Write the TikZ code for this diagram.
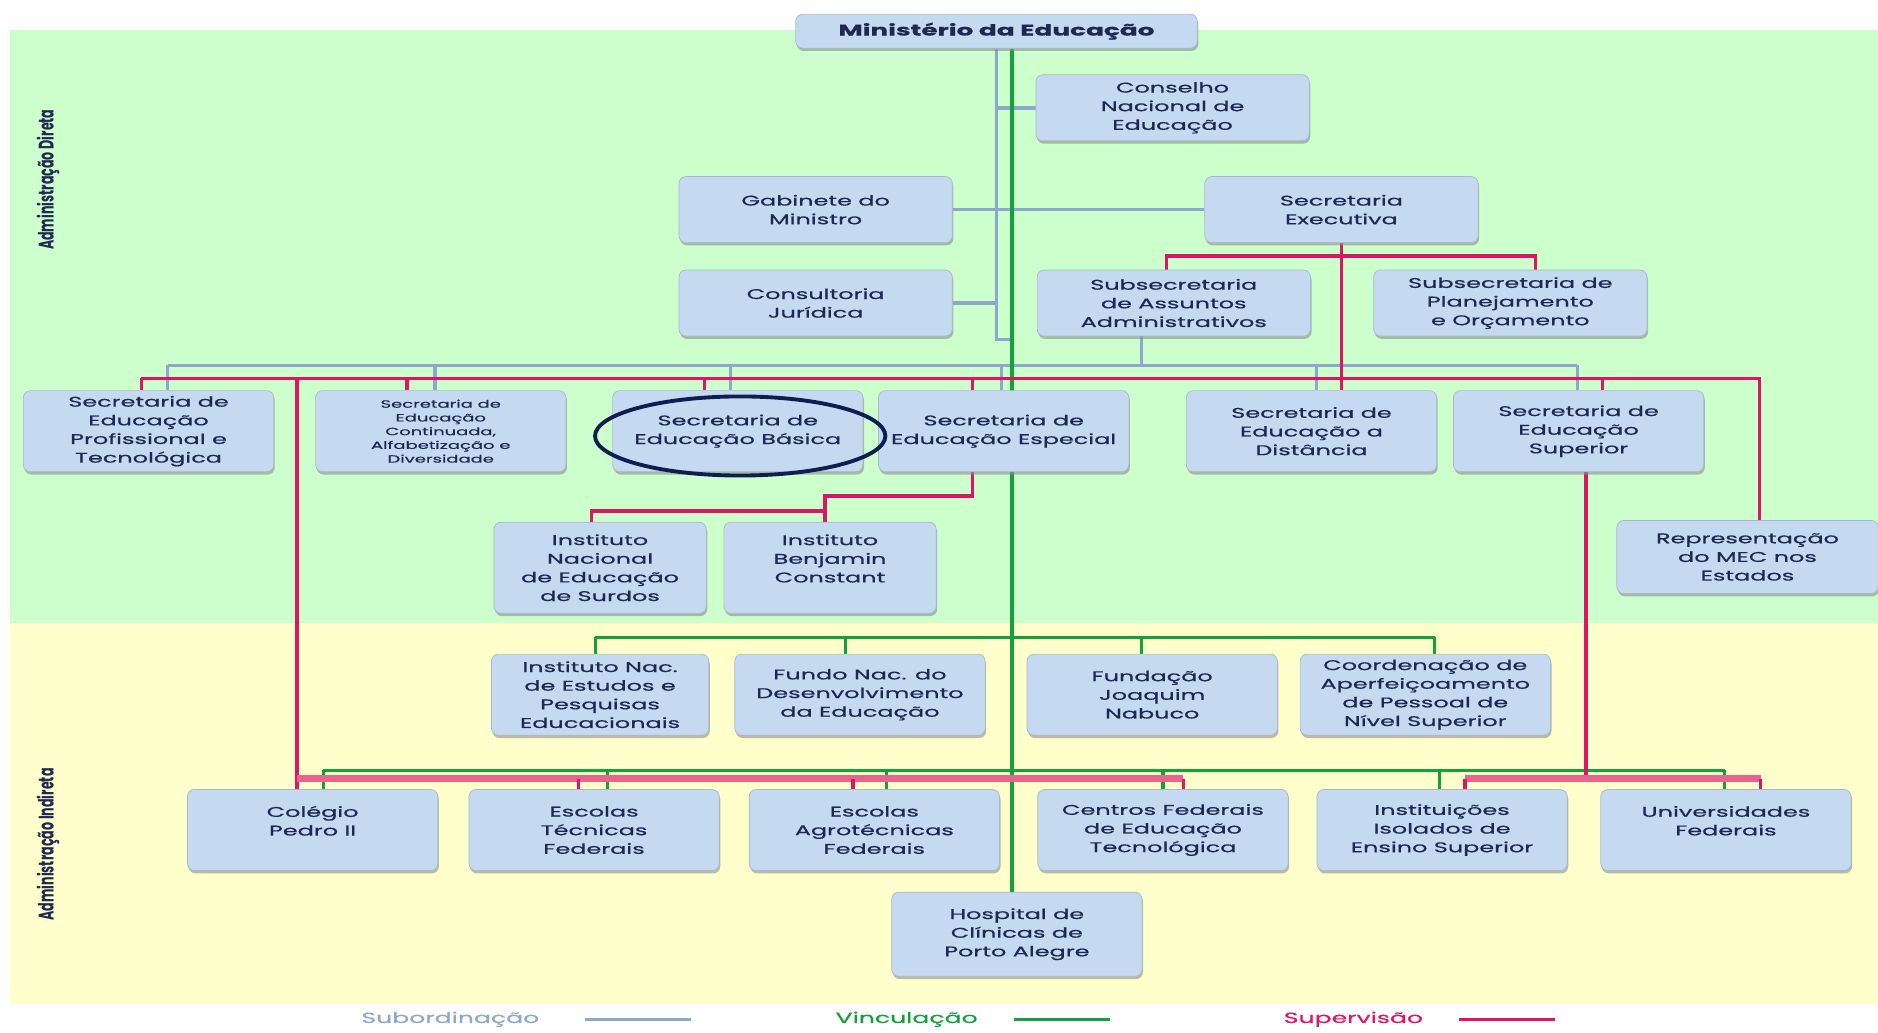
\documentclass[tikz,border=0pt]{standalone}
\usepackage{fontspec}
\newfontfamily\orgfont{Poppins}[FakeStretch=1.7, FakeBold=0.6]
\newfontfamily\sidefont{Poppins}[FakeStretch=0.6]
\usetikzlibrary{calc,shadows,shapes.geometric}
\definecolor{verde}{RGB}{204,255,204}
\definecolor{amarelo}{RGB}{255,255,204}
\definecolor{azulcaixa}{RGB}{197,218,240}
\definecolor{texto}{RGB}{30,40,80}
\definecolor{subcor}{RGB}{141,168,204}
\definecolor{vinccor}{RGB}{20,160,60}
\definecolor{supcor}{RGB}{222,20,100}
\definecolor{suprosa}{RGB}{232,100,140}
\definecolor{marca}{RGB}{15,30,80}
\pgfdeclarelayer{fundo}
\pgfdeclarelayer{linhas}
\pgfsetlayers{fundo,linhas,main}
\tikzset{
  caixa/.style = {
    fill=azulcaixa, draw=azulcaixa!85!black, line width=0.2pt, rounded corners=2pt,
    drop shadow={shadow xshift=0.3pt, shadow yshift=-0.8pt, fill=black!45, opacity=0.6},
    text=texto, align=center, inner sep=0pt,
    font=\orgfont\fontsize{4}{5.3}\selectfont
  },
  topo/.style = {caixa, minimum width=2.73cm, minimum height=0.66cm},
  sec/.style = {caixa, minimum width=2.5cm, minimum height=0.81cm},
  inst/.style = {caixa, minimum width=2.12cm, minimum height=0.91cm},
  linhasub/.style = {draw=subcor, line width=1pt},
  linhavinc/.style = {draw=vinccor, line width=0.9pt},
  linhasup/.style = {draw=supcor, line width=1pt},
  barrarosa/.style = {draw=suprosa, line width=2pt},
  legenda/.style = {font=\orgfont\fontsize{4.2}{5}\selectfont}
}

\begin{document}
\begin{tikzpicture}[x=0.01197cm, y=-0.01197cm]
  \useasboundingbox (0,0) rectangle (1568,862);
  \begin{pgfonlayer}{fundo}
    \fill[verde] (8,25) rectangle (1568,520);
    \fill[amarelo] (8,520) rectangle (1568,838);
  \end{pgfonlayer}

  \node[rotate=90, text=texto, font=\sidefont\bfseries\fontsize{6}{7}\selectfont] (direta) at (40,150) {Administração Direta};
  \node[rotate=90, text=texto, font=\sidefont\bfseries\fontsize{6}{7}\selectfont] (indireta) at (40,705) {Administração Indireta};

  % administracao direta
  \node[topo, minimum width=4.01cm, minimum height=0.34cm, font=\orgfont\bfseries\fontsize{4.4}{5}\selectfont] (mec) at (832,26) {Ministério da Educação};
  \node[topo] (cne) at (979,90) {Conselho\\Nacional de\\Educação};
  \node[topo] (gab) at (681,175) {Gabinete do\\Ministro};
  \node[topo] (sexec) at (1120,175) {Secretaria\\Executiva};
  \node[topo] (conj) at (681,253) {Consultoria\\Jurídica};
  \node[topo] (saa) at (980,253) {Subsecretaria\\de Assuntos\\Administrativos};
  \node[topo] (spo) at (1261,253) {Subsecretaria de\\Planejamento\\e Orçamento};

  \node[sec] (setec) at (124,360) {Secretaria de\\Educação\\Profissional e\\Tecnológica};
  \node[sec, font=\orgfont\fontsize{3}{3.9}\selectfont] (secad) at (368,360) {Secretaria de\\Educação\\Continuada,\\Alfabetização e\\Diversidade};
  \node[sec] (seb) at (616,360) {Secretaria de\\Educação Básica};
  \node[sec] (seesp) at (838,360) {Secretaria de\\Educação Especial};
  \node[sec] (seed) at (1095,360) {Secretaria de\\Educação a\\Distância};
  \node[sec] (sesu) at (1318,360) {Secretaria de\\Educação\\Superior};
  \node[sec, minimum width=2.61cm, minimum height=0.73cm] (rep) at (1459,465) {Representação\\do MEC nos\\Estados};

  \node[inst] (ines) at (501,474) {Instituto\\Nacional\\de Educação\\de Surdos};
  \node[inst] (ibc) at (693,474) {Instituto\\Benjamin\\Constant\\\mbox{}};

  % administracao indireta
  \node[sec, minimum width=2.17cm] (inep) at (501,580) {Instituto Nac.\\de Estudos e\\Pesquisas\\Educacionais};
  \node[sec] (fnde) at (718,580) {Fundo Nac. do\\Desenvolvimento\\da Educação};
  \node[sec] (fundaj) at (962,580) {Fundação\\Joaquim\\Nabuco};
  \node[sec] (capes) at (1190,580) {Coordenação de\\Aperfeiçoamento\\de Pessoal de\\Nível Superior};

  \node[sec] (cp2) at (261,693) {Colégio\\Pedro II\\\mbox{}};
  \node[sec] (etf) at (496,693) {Escolas\\Técnicas\\Federais};
  \node[sec] (eaf) at (730,693) {Escolas\\Agrotécnicas\\Federais};
  \node[sec] (cefet) at (971,693) {Centros Federais\\de Educação\\Tecnológica};
  \node[sec] (ies) at (1204,693) {Instituições\\Isolados de\\Ensino Superior};
  \node[sec] (ufs) at (1441,693) {Universidades\\Federais\\\mbox{}};
  \node[sec, minimum height=0.84cm] (hcpa) at (849,780) {Hospital de\\Clínicas de\\Porto Alegre};

  \node[ellipse, draw=marca, line width=1.1pt, minimum width=2.9cm, minimum height=0.79cm] (destaque) at (618,364) {};

  % barras
  \coordinate (barrasub) at (0,305);
  \coordinate (barrasup) at (0,316);
  \coordinate (barravinc) at (0,532);
  \coordinate (barravinc2) at (0,643);
  \coordinate (barrasup2) at (0,650);

  \begin{pgfonlayer}{linhas}
    % subordinacao
    \draw[linhasub] (mec.south) -- ($(mec.south)+(0,243)$) -- ++(13,0);
    \draw[linhasub] (cne.west) -- (cne.west -| mec.south);
    \draw[linhasub] (gab.east) -- (sexec.west);
    \draw[linhasub] (conj.east) -- (conj.east -| mec.south);
    \draw[linhasub] ($(saa.south)+(-27,0)$) -- ($(saa.south |- barrasub)+(-27,0)$);
    \draw[linhasub] ($(setec.north |- barrasub)+(16,0)$) -- ($(sesu.north |- barrasub)+(-1,0)$);
    \foreach \n/\dx in {setec/16, secad/-5, seb/-6, seesp/-2, seed/4, sesu/-1}
      \draw[linhasub] ($(\n.north)+(\dx,0)$) -- ($(\n.north |- barrasub)+(\dx,0)$);

    % vinculacao
    \draw[linhavinc] ($(mec.south)+(13,0)$) coordinate (g0) -- (g0 |- hcpa.north);
    \draw[linhavinc] ($(inep.north |- barravinc)+(-4,0)$) -- ($(capes.north |- barravinc)+(8,0)$);
    \foreach \n/\dx in {inep/-4, fnde/-12, fundaj/-9, capes/8}
      \draw[linhavinc] ($(\n.north)+(\dx,0)$) -- ($(\n.north |- barravinc)+(\dx,0)$);
    \draw[linhavinc] ($(cp2.north |- barravinc2)+(9,0)$) -- ($(ufs.north |- barravinc2)+(-1,0)$);
    \foreach \n/\dx in {cp2/9, etf/11, eaf/10, cefet/0, ies/-2, ufs/-1}
      \draw[linhavinc] ($(\n.north)+(\dx,0)$) -- ($(\n.north |- barravinc2)+(\dx,0)$);

    % supervisao
    \draw[linhasup] (sexec.south) -- (sexec.south |- seed.north);
    \draw[linhasup] ($(saa.north)+(-6,0)$) |- ($(sexec.south)+(0,11)$) -| ($(spo.north)+(21,0)$);
    \draw[linhasup] ($(setec.north |- barrasup)+(-6,0)$) -| ($(rep.north)+(10,0)$);
    \foreach \n/\dx in {setec/-6, secad/-28, seb/-28, seesp/-26, sesu/20}
      \draw[linhasup] ($(\n.north)+(\dx,0)$) -- ($(\n.north |- barrasup)+(\dx,0)$);
    \draw[linhasup] ($(seesp.south)+(-26,0)$) -- ++(0,20) -| ($(ibc.north)+(-4,0)$);
    \draw[linhasup] ($(ibc.north)+(-4,-9)$) -| ($(ines.north)+(-7,0)$);
    \draw[linhasup] ($(cp2.north |- barrasup)+(-13,0)$) -- ($(cp2.north)+(-13,0)$);
    \draw[linhasup] ($(sesu.south)+(6,0)$) -- ($(sesu.south |- barrasup2)+(6,0)$);
    \draw[barrarosa] ($(cp2.north |- barrasup2)+(-13,0)$) -- ($(cefet.north |- barrasup2)+(17,0)$);
    \draw[barrarosa] ($(ies.north |- barrasup2)+(19,0)$) -- ($(ufs.north |- barrasup2)+(29,0)$);
    \foreach \n/\dx in {etf/-13, eaf/-18, cefet/17, ies/19, ufs/29}
      \draw[linhasup] ($(\n.north)+(\dx,0)$) -- ($(\n.north |- barrasup2)+(\dx,0)$);
  \end{pgfonlayer}

  % legenda
  \node[legenda, text=subcor] (legsub) at (376,851) {Subordinação};
  \draw[linhasub] ($(legsub.east)+(28,0)$) -- ++(88,0);
  \node[legenda, text=vinccor] (legvinc) at (757,851) {Vinculação};
  \draw[linhavinc] ($(legvinc.east)+(20,0)$) -- ++(80,0);
  \node[legenda, text=supcor] (legsup) at (1130,851) {Supervisão};
  \draw[linhasup] ($(legsup.east)+(20,0)$) -- ++(80,0);
\end{tikzpicture}
\end{document}
